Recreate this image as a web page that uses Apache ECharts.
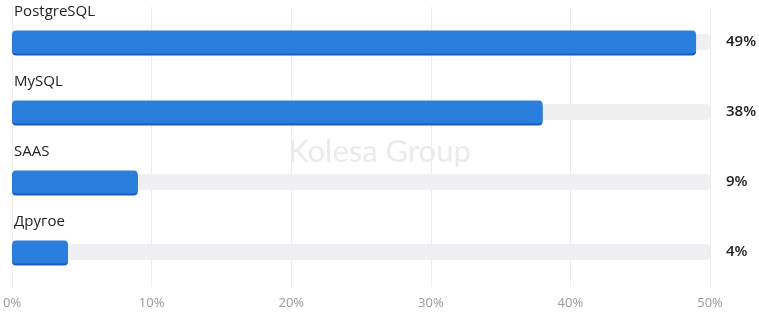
<!DOCTYPE html>
<html><head><meta charset="utf-8">
<script src="https://cdn.jsdelivr.net/npm/echarts@6/dist/echarts.min.js"></script>
<style>html,body{margin:0;padding:0;background:#fff}#c{width:759px;height:313px}</style>
</head><body><div id="c"></div>
<script>
const categories = ['PostgreSQL', 'MySQL', 'SAAS', 'Другое'];
const values = [49, 38, 9, 4];
const axisMax = 50;
const tickStep = 10;

const chart = echarts.init(document.getElementById('c'), null, {renderer: 'canvas'});
const font = '"Open Sans", "Noto Sans", sans-serif';
chart.setOption({
  animation: false,
  graphic: [{
    type: 'text', left: 'center', top: 136, z: 0,
    style: {text: 'Kolesa Group', fontSize: 31, fontFamily: 'Lato, "Noto Sans", sans-serif', fill: '#ebebeb'}
  }],
  grid: {left: 10, right: 49, top: 7, bottom: 26, containLabel: false},
  xAxis: {
    type: 'value', min: 0, max: axisMax, interval: tickStep,
    axisLine: {show: false}, axisTick: {show: false},
    splitLine: {lineStyle: {color: '#ededed'}},
    axisLabel: {color: '#999', fontSize: 13, fontFamily: font, formatter: '{value}%', margin: 10}
  },
  yAxis: [
    {type: 'category', data: categories, inverse: true, show: false},
    {type: 'category', data: categories, inverse: true, show: false}
  ],
  series: [
    {
      type: 'bar', yAxisIndex: 1, barWidth: 16, z: 1, silent: true,
      data: categories.map(() => axisMax),
      itemStyle: {color: '#f0f0f2', borderRadius: 4},
      label: {
        show: true, position: 'right', distance: 16,
        formatter: p => values[p.dataIndex] + '%',
        color: '#222', fontSize: 15, fontWeight: 600, fontFamily: font
      }
    },
    {
      type: 'bar', yAxisIndex: 0, barWidth: 23, z: 2,
      data: values,
      itemStyle: {color: '#2a7fde', borderRadius: 4, shadowColor: '#1c58c0', shadowOffsetY: 2, shadowBlur: 0},
      label: {
        show: true, position: [2, -26],
        formatter: p => categories[p.dataIndex],
        color: '#222', fontSize: 15, fontFamily: font
      }
    }
  ]
});
</script></body></html>
